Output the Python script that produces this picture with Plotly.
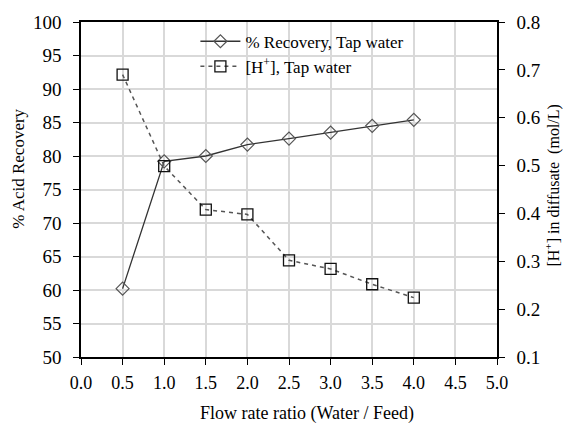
import plotly.graph_objects as go

flow_ratio = [0.5, 1.0, 1.5, 2.0, 2.5, 3.0, 3.5, 4.0]
recovery = [60.2, 79.2, 80.0, 81.7, 82.6, 83.5, 84.5, 85.4]
h_conc = [0.690, 0.499, 0.408, 0.398, 0.302, 0.284, 0.252, 0.224]

x_ticks = [0.0, 0.5, 1.0, 1.5, 2.0, 2.5, 3.0, 3.5, 4.0, 4.5, 5.0]
y1_ticks = list(range(50, 101, 5))
y2_ticks = [0.1, 0.2, 0.3, 0.4, 0.5, 0.6, 0.7, 0.8]

FONT = "Liberation Serif"

fig = go.Figure()
fig.add_trace(go.Scatter(
    x=flow_ratio, y=recovery, name="% Recovery, Tap water",
    mode="lines+markers",
    line=dict(color="#333333", width=1.3),
    marker=dict(symbol="diamond-open", size=10, color="#555555", line=dict(width=1.2)),
))
fig.add_trace(go.Scatter(
    x=flow_ratio, y=h_conc, name="[H<sup>+</sup>], Tap water",
    mode="lines+markers", yaxis="y2",
    line=dict(color="#555555", width=1.5, dash="4px,4px"),
    marker=dict(symbol="square-open", size=11, color="#111111", line=dict(width=1.3)),
))

fig.update_layout(
    width=564, height=425,
    margin=dict(l=81, r=67, t=17, b=68),
    paper_bgcolor="white", plot_bgcolor="white",
    font=dict(family=FONT, size=18, color="black"),
    showlegend=True,
    legend=dict(x=0.275, y=0.995, xanchor="left", yanchor="top",
                bgcolor="rgba(0,0,0,0)", font=dict(size=17), tracegroupgap=0,
                itemwidth=40),
    xaxis=dict(range=[0, 5], tickvals=x_ticks, tickformat=".1f",
               showgrid=True, gridcolor="#d9d9d9", gridwidth=1.5,
               showline=True, linecolor="black", linewidth=1.5, mirror=True,
               ticks="outside", ticklen=6, tickcolor="black", zeroline=False,
               ticklabelstandoff=3),
    yaxis=dict(range=[50, 100], tickvals=y1_ticks,
               showgrid=True, gridcolor="#d9d9d9", gridwidth=1.5,
               showline=True, linecolor="black", linewidth=1.5,
               ticks="outside", ticklen=6, tickcolor="black", zeroline=False,
               ticklabelstandoff=8, tickfont=dict(size=19)),
    yaxis2=dict(range=[0.1, 0.8], tickvals=y2_ticks, tickformat=".1f",
                overlaying="y", side="right", showgrid=False,
                showline=True, linecolor="black", linewidth=1.5,
                ticks="outside", ticklen=6, tickcolor="black", zeroline=False,
                ticklabelstandoff=8, tickfont=dict(size=19)),
)

fig.add_annotation(text="Flow rate ratio (Water / Feed)", xref="paper", yref="paper",
                   x=(307 - 81) / 416, y=-(414 - 357) / 340, showarrow=False,
                   xanchor="center", yanchor="middle", font=dict(size=18))
fig.add_annotation(text="% Acid Recovery", xref="paper", yref="paper",
                   x=-(81 - 19) / 416, y=(357 - 166) / 340, showarrow=False,
                   textangle=-90, xanchor="center", yanchor="middle", font=dict(size=17))
fig.add_annotation(text="[H<sup>+</sup>] in diffusate  (mol/L)", xref="paper", yref="paper",
                   x=1 + (553 - 497) / 416, y=(357 - 183) / 340, showarrow=False,
                   textangle=-90, xanchor="center", yanchor="middle", font=dict(size=16))

fig.write_html("out.html")
